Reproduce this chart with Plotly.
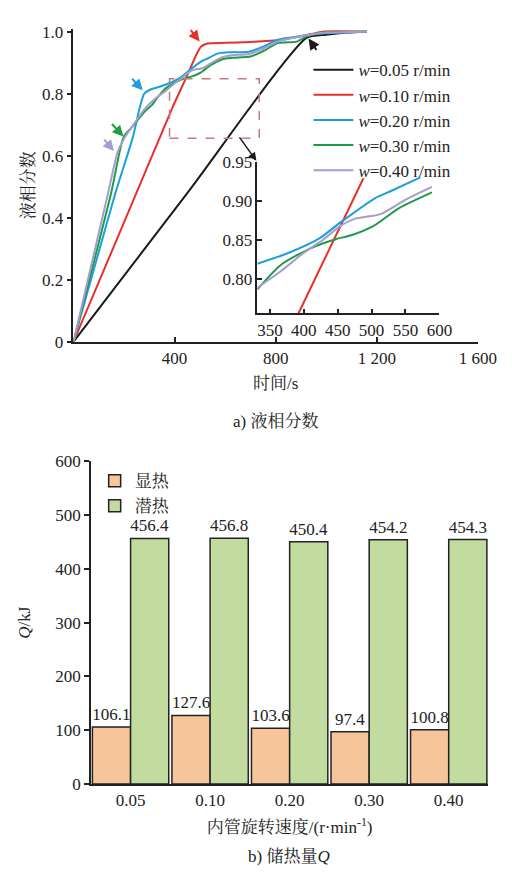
import plotly.graph_objects as go

# ---------------- data: liquid fraction vs time ----------------
legend_names = ["<i>w</i>=0.05 r/min", "<i>w</i>=0.10 r/min", "<i>w</i>=0.20 r/min",
                "<i>w</i>=0.30 r/min", "<i>w</i>=0.40 r/min"]

t_005 = [0, 460, 922, 1000, 1080, 1160]
f_005 = [0, 0.49, 0.98, 0.99, 0.997, 1.0]

t_010 = [0, 200, 392, 445, 488, 505, 530, 600, 700, 808, 900, 986, 1160]
f_010 = [0, 0.385, 0.756, 0.85, 0.929, 0.952, 0.962, 0.964, 0.967, 0.972, 0.985, 1.0, 1.0]

t_020 = [0, 100, 166, 235, 262, 280, 300, 331, 376, 423, 454, 506, 527, 572, 629, 693, 750, 808, 900, 1000, 1160]
f_020 = [0, 0.29, 0.48, 0.66, 0.755, 0.80, 0.812, 0.82, 0.833, 0.852, 0.8725, 0.904, 0.912, 0.93, 0.934, 0.935, 0.952, 0.974, 0.986, 0.995, 1.0]

t_030 = [0, 149, 198, 229, 281, 312, 332, 366, 409, 447, 470, 503, 541, 589, 629, 700, 757, 808, 884, 922, 1000, 1160]
f_030 = [0, 0.48, 0.66, 0.69, 0.742, 0.765, 0.787, 0.818, 0.839, 0.851, 0.856, 0.868, 0.891, 0.911, 0.916, 0.92, 0.94, 0.963, 0.968, 0.984, 0.998, 1.0]

t_040 = [0, 137, 174, 200, 229, 281, 331, 366, 399, 428, 454, 475, 513, 551, 589, 629, 693, 750, 808, 900, 1000, 1160]
f_040 = [0, 0.48, 0.61, 0.655, 0.69, 0.75, 0.789, 0.81, 0.833, 0.85, 0.868, 0.877, 0.883, 0.902, 0.918, 0.924, 0.928, 0.945, 0.968, 0.985, 0.997, 1.0]

# inset (zoomed) data
it_010 = [392, 488]
if_010 = [0.756, 0.929]
it_020 = [331.5, 376, 423, 454, 506, 527, 572]
if_020 = [0.8196, 0.833, 0.852, 0.8725, 0.904, 0.912, 0.93]
it_030 = [331.5, 366, 409, 447, 470, 503, 541, 589]
if_030 = [0.787, 0.818, 0.839, 0.851, 0.856, 0.868, 0.891, 0.911]
it_040 = [331.5, 366, 399, 428, 454, 475, 513, 551, 589]
if_040 = [0.789, 0.81, 0.833, 0.85, 0.868, 0.877, 0.883, 0.902, 0.918]

main_xticks = [400, 800, 1200, 1600]
main_xticktext = ["400", "800", "1 200", "1 600"]
main_yticks = [0, 0.2, 0.4, 0.6, 0.8, 1.0]
main_yticktext = ["0", "0.2", "0.4", "0.6", "0.8", "1.0"]
inset_xticks = [350, 400, 450, 500, 550, 600]
inset_yticks = [0.80, 0.85, 0.90, 0.95]
inset_yticktext = ["0.80", "0.85", "0.90", "0.95"]

# ---------------- data: heat storage ----------------
speeds = ["0.05", "0.10", "0.20", "0.30", "0.40"]
sensible = [106.1, 127.6, 103.6, 97.4, 100.8]
latent = [456.4, 456.8, 450.4, 454.2, 454.3]
bar_yticks = [0, 100, 200, 300, 400, 500, 600]

# ---------------- styling ----------------
W, H = 512, 879
FONT = "'Liberation Serif', 'Noto Serif CJK SC', 'Noto Sans CJK SC', serif"
INK = "#222222"
colors = ["#1a1a1a", "#e8302a", "#1c9fda", "#1f9a48", "#a59dcc"]


def px(p):
    return p / W


def py(p):
    return 1 - p / H


fig = go.Figure()

series = [(t_005, f_005), (t_010, f_010), (t_020, f_020), (t_030, f_030), (t_040, f_040)]
for (t, f), name, c in zip(series, legend_names, colors):
    fig.add_trace(go.Scatter(x=t, y=f, mode="lines", name=name,
                             line=dict(color=c, width=2, shape="spline", smoothing=0.6),
                             xaxis="x", yaxis="y", legend="legend"))

inset = [(it_010, if_010, colors[1]), (it_020, if_020, colors[2]),
         (it_030, if_030, colors[3]), (it_040, if_040, colors[4])]
for t, f, c in inset:
    fig.add_trace(go.Scatter(x=t, y=f, mode="lines", showlegend=False,
                             line=dict(color=c, width=2, shape="spline", smoothing=0.6),
                             xaxis="x2", yaxis="y2"))

fig.add_trace(go.Bar(x=speeds, y=sensible, name="显热",
                     marker=dict(color="#f6c69a", line=dict(color=INK, width=1.5)),
                     texttemplate="%{y:.1f}", textposition="outside", constraintext="none",
                     cliponaxis=False, textfont=dict(size=17, color=INK, family=FONT),
                     xaxis="x3", yaxis="y3", legend="legend2"))
fig.add_trace(go.Bar(x=speeds, y=latent, name="潜热",
                     marker=dict(color="#c2dca0", line=dict(color=INK, width=1.5)),
                     texttemplate="%{y:.1f}", textposition="outside", constraintext="none",
                     cliponaxis=False, textfont=dict(size=17, color=INK, family=FONT),
                     xaxis="x3", yaxis="y3", legend="legend2"))

axis_common = dict(showline=True, linecolor=INK, linewidth=1.5, showgrid=False,
                   zeroline=False, tickcolor=INK, tickwidth=1.5,
                   tickfont=dict(size=17, color=INK, family=FONT))

fig.update_layout(
    width=W, height=H,
    margin=dict(l=0, r=0, t=0, b=0),
    paper_bgcolor="white", plot_bgcolor="rgba(0,0,0,0)",
    font=dict(family=FONT, size=17, color=INK),
    barmode="group", bargap=0.04, bargroupgap=0,
    xaxis=dict(domain=[px(68), px(488)], range=[0, 1600], tickvals=main_xticks,
               ticktext=main_xticktext, ticks="inside", ticklen=5,
               title=dict(text="时间/s", standoff=10, font=dict(size=17, family=FONT)),
               anchor="y", **axis_common),
    yaxis=dict(domain=[py(332), py(332 - 317 * 1.01)], range=[0, 1.01],
               tickvals=main_yticks, ticktext=main_yticktext, ticks="outside", ticklen=5,
               title=dict(text="液相分数", standoff=3, font=dict(size=17, family=FONT)),
               anchor="x", **axis_common),
    xaxis2=dict(domain=[px(259), px(448)], range=[331.5, 600], tickvals=inset_xticks,
                ticks="inside", ticklen=5, anchor="y2", **axis_common),
    yaxis2=dict(domain=[py(303), py(148)], range=[0.756, 0.95], tickvals=inset_yticks,
                ticktext=inset_yticktext, ticks="inside", ticklen=5, anchor="x2",
                **axis_common),
    xaxis3=dict(domain=[px(86), px(499)], range=[-0.5, 4.5], type="category",
                ticks="", anchor="y3",
                title=dict(text="内管旋转速度/(r·min<sup>-1</sup>)", standoff=12,
                           font=dict(size=17, family=FONT)),
                **axis_common),
    yaxis3=dict(domain=[py(784), py(454)], range=[0, 600], tickvals=bar_yticks,
                ticks="outside", ticklen=5, anchor="x3",
                title=dict(text="<i>Q</i>/kJ", standoff=20, font=dict(size=17, family=FONT)),
                **axis_common),
    legend=dict(x=px(312), y=py(36), xanchor="left", yanchor="top",
                bgcolor="rgba(0,0,0,0)", font=dict(size=17, family=FONT, color=INK),
                tracegroupgap=0, itemwidth=40),
    legend2=dict(x=px(90), y=py(456), xanchor="left", yanchor="top",
                 bgcolor="rgba(0,0,0,0)", font=dict(size=17, family=FONT, color=INK),
                 tracegroupgap=0),
)

# zoom rectangle on main chart
fig.add_shape(type="rect", xref="x", yref="y", x0=380, x1=735, y0=0.656, y1=0.848,
              line=dict(color="#c97a78", width=1.5, dash="dash"))

# arrows
arrows = [
    (499, 0.968, -10, -13, colors[1]),
    (274, 0.811, -12, -13, colors[2]),
    (198, 0.662, -13, -14, colors[3]),
    (160, 0.615, -11, -13, colors[4]),
    (930, 0.978, 9, 13, colors[0]),
]
for x, y, ax, ay, c in arrows:
    fig.add_annotation(x=x, y=y, xref="x", yref="y", ax=ax, ay=ay, text="",
                       showarrow=True, arrowhead=2, arrowsize=1.1, arrowwidth=2, arrowcolor=c)

fig.add_annotation(x=px(258), y=py(147), xref="paper", yref="paper", ax=-18, ay=-25,
                   text="", showarrow=True, arrowhead=2, arrowsize=1.1, arrowwidth=1.5,
                   arrowcolor="#1a1a1a")

# captions
fig.add_annotation(x=px(278), y=py(413), xref="paper", yref="paper", text="a) 液相分数",
                   xanchor="center", yanchor="middle",
                   showarrow=False, font=dict(size=17, family=FONT, color=INK))
fig.add_annotation(x=px(292), y=py(858), xref="paper", yref="paper", text="b) 储热量<i>Q</i>",
                   xanchor="center", yanchor="middle",
                   showarrow=False, font=dict(size=17, family=FONT, color=INK))

fig.write_html("out.html")
